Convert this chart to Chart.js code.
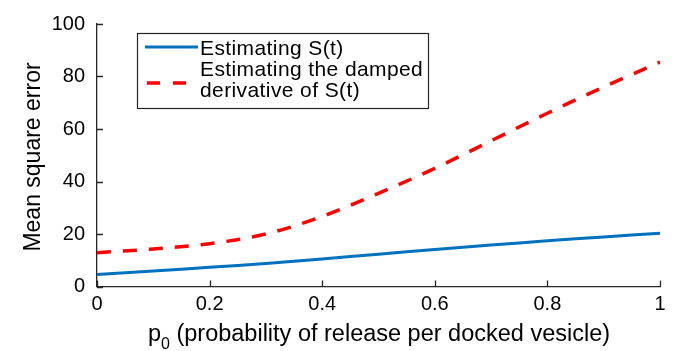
<!DOCTYPE html>
<html>
<head>
<meta charset="utf-8">
<script src="https://cdn.jsdelivr.net/npm/chart.js@4.4.1/dist/chart.umd.min.js"></script>
<style>
  html, body { margin: 0; padding: 0; background: #ffffff; }
  #wrap { width: 685px; height: 351px; position: relative; }
</style>
</head>
<body>
<div id="wrap"><canvas id="c" width="685" height="351"></canvas></div>
<script>
// ---- data ----
const xValues = [0, 0.1, 0.2, 0.3, 0.4, 0.5, 0.6, 0.7, 0.8, 0.9, 1.0];
const sValues = [4.6, 5.9, 7.3, 8.8, 10.5, 12.3, 14.1, 15.8, 17.4, 18.9, 20.3];
const derivValues = [12.9, 14.3, 16.3, 20.0, 26.7, 35.5, 45.0, 55.5, 66.0, 76.0, 85.5];
const seriesNames = [["Estimating S(t)"], ["Estimating the damped", "derivative of S(t)"]];
const xTickLabels = ["0", "0.2", "0.4", "0.6", "0.8", "1"];
const yTickLabels = ["0", "20", "40", "60", "80", "100"];
const yTitle = "Mean square error";
const xTitleMain = "p";
const xTitleSub = "0";
const xTitleRest = " (probability of release per docked vesicle)";

const AXC = "#262626";
const FONT = "'Liberation Sans', Arial, Helvetica, sans-serif";

const toPts = (ys) => xValues.map((x, i) => ({ x: x, y: ys[i] }));

const overlay = {
  id: "overlay",
  afterDraw(chart) {
    const ctx = chart.ctx;
    const xs = chart.scales.x, ys = chart.scales.y;
    const ca = chart.chartArea;
    ctx.save();
    // inward ticks
    ctx.strokeStyle = AXC;
    ctx.lineWidth = 1.3;
    ctx.beginPath();
    xs.ticks.forEach(t => {
      const px = Math.round(xs.getPixelForValue(t.value)) + 0.5;
      ctx.moveTo(px, ca.bottom);
      ctx.lineTo(px, ca.bottom - 6);
    });
    ys.ticks.forEach(t => {
      const py = Math.round(ys.getPixelForValue(t.value)) + 0.5;
      ctx.moveTo(ca.left, py);
      ctx.lineTo(ca.left + 6, py);
    });
    ctx.stroke();

    // legend
    const lx = 137.5, ly = 33.5, lw = 291, lh = 75;
    ctx.fillStyle = "#ffffff";
    ctx.fillRect(lx, ly, lw, lh);
    ctx.strokeStyle = AXC;
    ctx.lineWidth = 1.2;
    ctx.strokeRect(lx, ly, lw, lh);
    const ds = chart.data.datasets;
    ctx.strokeStyle = ds[0].borderColor;
    ctx.lineWidth = ds[0].borderWidth;
    ctx.setLineDash([]);
    ctx.beginPath(); ctx.moveTo(145, 47); ctx.lineTo(198, 47); ctx.stroke();
    ctx.strokeStyle = ds[1].borderColor;
    ctx.lineWidth = ds[1].borderWidth;
    ctx.setLineDash([13, 13]);
    ctx.beginPath(); ctx.moveTo(147, 83); ctx.lineTo(187, 83); ctx.stroke();
    ctx.setLineDash([]);
    ctx.fillStyle = "#000000";
    ctx.font = "21px " + FONT;
    if ("letterSpacing" in ctx) ctx.letterSpacing = "0.4px";
    ctx.textAlign = "left";
    ctx.textBaseline = "alphabetic";
    ctx.fillText(seriesNames[0][0], 200, 55);
    ctx.fillText(seriesNames[1][0], 200, 76);
    ctx.fillText(seriesNames[1][1], 200, 97);
    if ("letterSpacing" in ctx) ctx.letterSpacing = "0px";

    // y title
    ctx.save();
    ctx.translate(40, 157);
    ctx.rotate(-Math.PI / 2);
    ctx.font = "23px " + FONT;
    ctx.textAlign = "center";
    ctx.fillText(yTitle, 0, 0);
    ctx.restore();

    // x title with subscript
    ctx.font = "23.5px " + FONT;
    const wMain = ctx.measureText(xTitleMain).width;
    ctx.font = "16px " + FONT;
    const wSub = ctx.measureText(xTitleSub).width;
    ctx.font = "23.5px " + FONT;
    const wRest = ctx.measureText(xTitleRest).width;
    const total = wMain + wSub + wRest;
    let sx = 379 - total / 2;
    ctx.textAlign = "left";
    ctx.fillText(xTitleMain, sx, 341);
    ctx.font = "16px " + FONT;
    ctx.fillText(xTitleSub, sx + wMain, 349);
    ctx.font = "23.5px " + FONT;
    ctx.fillText(xTitleRest, sx + wMain + wSub, 341);
    ctx.restore();
  }
};

new Chart(document.getElementById("c"), {
  type: "line",
  data: {
    datasets: [
      {
        label: seriesNames[0].join(" "),
        data: toPts(sValues),
        borderColor: "#0072BD",
        borderWidth: 3,
        pointRadius: 0,
        fill: false,
        tension: 0.4
      },
      {
        label: seriesNames[1].join(" "),
        data: toPts(derivValues),
        borderColor: "#FF0000",
        borderWidth: 3.5,
        borderDash: [14, 12],
        pointRadius: 0,
        fill: false,
        cubicInterpolationMode: "monotone"
      }
    ]
  },
  options: {
    responsive: false,
    animation: false,
    devicePixelRatio: 1,
    layout: { padding: { left: 0, right: 25, top: 21, bottom: 0 } },
    plugins: { legend: { display: false }, tooltip: { enabled: false } },
    scales: {
      x: {
        type: "linear",
        min: 0, max: 1,
        grid: { display: false, drawTicks: false },
        border: { display: true, color: AXC, width: 1.3 },
        ticks: {
          stepSize: 0.2,
          padding: 6,
          color: "#000000",
          font: { family: FONT, size: 20 },
          maxRotation: 0,
          callback: (v) => xTickLabels[Math.round(v * 5)]
        },
        afterFit: (s) => { s.height = 64.5; }
      },
      y: {
        min: 0, max: 100,
        grid: { display: false, drawTicks: false },
        border: { display: true, color: AXC, width: 1.3 },
        ticks: {
          stepSize: 20,
          padding: 12,
          color: "#000000",
          font: { family: FONT, size: 20 },
          callback: (v) => yTickLabels[Math.round(v / 20)]
        },
        afterFit: (s) => { s.width = 97; }
      }
    }
  },
  plugins: [overlay]
});
</script>
</body>
</html>
